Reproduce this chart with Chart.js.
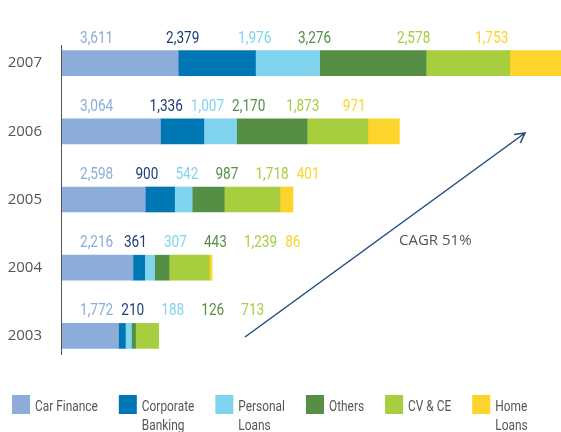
<!DOCTYPE html>
<html>
<head>
<meta charset="utf-8">
<script src="https://cdn.jsdelivr.net/npm/chart.js@4/dist/chart.umd.min.js"></script>
<style>
  body { margin: 0; background: #fff; }
</style>
</head>
<body>
<canvas id="chart" width="561" height="432"></canvas>
<script>
// Data
const years = ["2007", "2006", "2005", "2004", "2003"];
const seriesNames = ["Car Finance", "Corporate Banking", "Personal Loans", "Others", "CV & CE", "Home Loans"];
const legendLines = [["Car Finance"], ["Corporate", "Banking"], ["Personal", "Loans"], ["Others"], ["CV & CE"], ["Home", "Loans"]];

const carFinance = [3611, 3064, 2598, 2216, 1772];
const corporateBanking = [2379, 1336, 900, 361, 210];
const personalLoans = [1976, 1007, 542, 307, 188];
const others = [3276, 2170, 987, 443, 126];
const cvce = [2578, 1873, 1718, 1239, 713];
const homeLoans = [1753, 971, 401, 86, null];

const barColors = ["#8cacda", "#0077b5", "#80d4ee", "#548f45", "#a6ce3e", "#fdd42b"];
const labelColors = ["#8cacda", "#1b3f73", "#80d4ee", "#548f45", "#a6ce3e", "#fdd42b"];

const cagrText = "CAGR 51%";
const narrowFamily = '"Roboto", "Noto Sans", sans-serif';
const squeeze = 0.85; // fake a condensed face

// draw text squeezed horizontally, returns drawn width
function narrowText(ctx, txt, x, y) {
  ctx.save();
  ctx.translate(x, y);
  ctx.scale(squeeze, 1);
  ctx.fillText(txt, 0, 0);
  ctx.restore();
  return ctx.measureText(txt).width * squeeze;
}

// value labels above each segment, axis line, growth arrow, legend
const overlay = {
  id: "overlay",
  afterDatasetsDraw(chart) {
    const ctx = chart.ctx;
    const area = chart.chartArea;
    ctx.save();
    ctx.font = "16px " + narrowFamily;
    ctx.textAlign = "left";
    ctx.textBaseline = "alphabetic";
    years.forEach((y, i) => {
      let prevStart = null, prevEnd = null;
      chart.data.datasets.forEach((ds, d) => {
        const v = ds.data[i];
        if (v == null) return;
        const bar = chart.getDatasetMeta(d).data[i];
        const start = Math.min(bar.base, bar.x);
        const top = bar.y - bar.height / 2;
        // labels drift left of their segment, but keep a minimum pitch
        const x = prevStart === null ? start + 19
          : Math.max(start * 0.932, prevStart + 40, prevEnd + 8);
        ctx.fillStyle = labelColors[d];
        const w = narrowText(ctx, v.toLocaleString("en-US"), x, top - 8);
        prevStart = x;
        prevEnd = x + w;
      });
    });

    // vertical axis line
    ctx.strokeStyle = "#555";
    ctx.lineWidth = 1;
    ctx.beginPath();
    ctx.moveTo(area.left + 0.5, area.top + 16);
    ctx.lineTo(area.left + 0.5, area.bottom - 15);
    ctx.stroke();

    // CAGR arrow
    const x0 = 245, y0 = 337, x1 = 525, y1 = 133;
    ctx.strokeStyle = "#1f4b7f";
    ctx.lineWidth = 1.5;
    ctx.beginPath();
    ctx.moveTo(x0, y0);
    ctx.lineTo(x1, y1);
    const ang = Math.atan2(y1 - y0, x1 - x0);
    const len = 11;
    ctx.moveTo(x1 - len * Math.cos(ang - 0.5), y1 - len * Math.sin(ang - 0.5));
    ctx.lineTo(x1, y1);
    ctx.lineTo(x1 - len * Math.cos(ang + 0.5), y1 - len * Math.sin(ang + 0.5));
    ctx.stroke();

    ctx.fillStyle = "#555";
    ctx.font = '15px "Open Sans", "Lato", sans-serif';
    ctx.textBaseline = "middle";
    ctx.fillText(cagrText, 399, 241);

    // legend, labels on one or two lines
    ctx.font = "14px " + narrowFamily;
    let lx = 12;
    seriesNames.forEach((name, i) => {
      ctx.fillStyle = barColors[i];
      ctx.fillRect(lx, 395, 18, 19);
      ctx.fillStyle = "#555";
      let w = 0;
      legendLines[i].forEach((line, k) => {
        w = Math.max(w, narrowText(ctx, line, lx + 23, 407 + k * 19));
      });
      lx += 23 + w + 21;
    });
    ctx.restore();
  }
};

const seriesData = [carFinance, corporateBanking, personalLoans, others, cvce, homeLoans];

const chart = new Chart(document.getElementById("chart"), {
  type: "bar",
  data: {
    labels: years,
    datasets: seriesNames.map((name, i) => ({
      label: name,
      data: seriesData[i],
      backgroundColor: barColors[i],
      borderWidth: 0,
      barThickness: 25
    }))
  },
  options: {
    indexAxis: "y",
    responsive: false,
    animation: false,
    layout: { padding: { top: 29, bottom: 62, right: 0, left: 0 } },
    plugins: {
      legend: { display: false },
      tooltip: { enabled: false }
    },
    scales: {
      x: { stacked: true, display: false, min: 0, max: 15400 },
      y: {
        stacked: true,
        grid: { display: false, drawTicks: false },
        border: { display: false },
        ticks: {
          padding: 19,
          color: "#555",
          font: { family: '"Open Sans", "Lato", sans-serif', size: 15 }
        },
        afterFit(s) { s.width = 61; }
      }
    }
  },
  plugins: [overlay]
});
</script>
</body>
</html>
